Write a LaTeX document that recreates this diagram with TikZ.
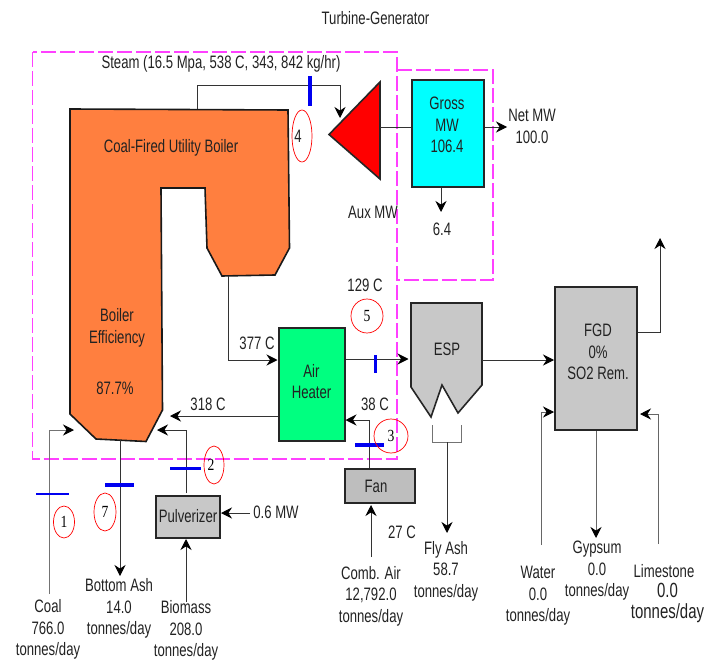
\documentclass[tikz,border=0pt]{standalone}
\usepackage{fontspec}
\setmainfont{Liberation Sans}
\newfontfamily\nf[FakeStretch=0.73]{Liberation Sans}
\newfontfamily\nr[FakeStretch=0.8]{Liberation Serif}
\usetikzlibrary{arrows.meta,shapes.geometric}
\definecolor{boilerc}{HTML}{FF7F3F}
\definecolor{magc}{HTML}{FF40FF}
\definecolor{greenc}{HTML}{00FF80}
\definecolor{cyanc}{HTML}{00FFFF}
\definecolor{redc}{HTML}{FF0000}
\definecolor{grayc}{HTML}{C8C8C8}
\definecolor{bluec}{HTML}{0000F0}
\definecolor{txt}{HTML}{222222}
\tikzset{
  lab/.style={font=\nf\fontsize{18}{21.5}\selectfont, align=center, text=txt, inner sep=0pt},
  biglab/.style={font=\nf\fontsize{20.5}{21}\selectfont, align=center, text=txt, inner sep=0pt},
  numc/.style={draw=redc, line width=.7pt, ellipse, inner sep=0pt, text=black, font=\nr\fontsize{17}{17}\selectfont},
  unitbox/.style={draw=black!85, line width=2pt, minimum width=#1, inner sep=0pt, align=center},
  flow/.style={draw=black!80, line width=.9pt, -{Stealth[length=11pt,width=11pt,fill=black,color=black]}},
  plain/.style={draw=black!80, line width=.9pt},
  tick/.style={draw=bluec, line width=3.2pt},
  zone/.style={draw=magc, line width=1.1pt, dash pattern=on 15pt off 4pt},
}
\begin{document}
\begin{tikzpicture}[x=1pt,y=-1pt]
\useasboundingbox (0,0) rectangle (721,661);
% zones
\draw[zone] (32.5,52) rectangle (397,459);
\draw[zone] (397,70) -- (493,70) -- (493,280) -- (397,280);
% boiler
\draw[fill=boilerc, draw=black!90, line width=1.6pt, line join=miter]
  (70,109) -- (288,110) -- (289.5,248) -- (275,275) -- (222,276) -- (207,248) -- (205,188) -- (161,188)
  -- (162.5,410) -- (146,441.5) -- (96,439) -- (70,414) -- cycle;
\coordinate (boilerTop) at (197,109);
\coordinate (boilerOut) at (228,276);
\coordinate (boilerBot) at (120,440);
\node[lab] (boilname) at (171,148) {Coal-Fired Utility Boiler};
\node[lab] (boileff) at (117,328) {Boiler\\Efficiency};
\node[lab] (boilpct) at (115,388) {87.7\%};
% turbine
\draw[fill=redc, draw=black!85, line width=1.6pt] (329,134.5) -- (380,82) -- (380,179) -- cycle;
\coordinate (turbIn) at (340,118);
\coordinate (turbOut) at (380,127);
% generator
\node[unitbox=72pt, fill=cyanc, minimum height=107pt, anchor=north west] (gross) at (411,79) {};
\node[lab] (grosslab) at (447,125) {Gross\\MW\\106.4};
\coordinate (netEnd) at (507,127);
\coordinate (auxEnd) at (441,212);
\draw[plain] (turbOut) -- (gross.west |- turbOut);
\draw[flow] (gross.east |- turbOut) -- (netEnd);
\draw[flow] (gross.south -| auxEnd) -- (auxEnd);
\node[lab] (net) at (532,126.5) {Net MW\\100.0};
\node[lab] (aux) at (442,229) {6.4};
\node[lab] (auxmw) at (373,212) {Aux MW};
\node[lab] (tg) at (375.5,18) {Turbine-Generator};
\node[lab] (steam) at (221,64) {Steam (16.5 Mpa, 538 C, 343, 842 kg/hr)};
\draw[flow] (boilerTop) -- (197,85) -| (turbIn);
\draw[tick] (310,76) -- (310,106);
\node[numc, minimum width=20pt, minimum height=52pt] (c4) at (302,136) {};
\node[lab] (n4) at (298,136) {4};
% air heater
\node[unitbox=66pt, fill=greenc, minimum height=113pt, anchor=north west] (ah) at (277.5,327) {};
\node[lab] (ahl) at (311.5,381.5) {Air\\Heater};
\draw[flow] (boilerOut) -- (228,360) -- (ah.west |- 0,360);
\node[lab] (t377) at (257,343) {377 C};
\coordinate (b318) at (170,416);
\draw[flow] (ah.west |- b318) -- (b318);
\node[lab] (t318) at (208,404) {318 C};
% ESP
\draw[fill=grayc, draw=black!85, line width=1.6pt]
  (411,303) -- (482,303) -- (482,385) -- (458,413) -- (442,385) -- (431,417) -- (411,387) -- cycle;
\coordinate (espIn) at (408.5,359);
\coordinate (espOut) at (482,360);
\node[lab] (esp) at (447,349) {ESP};
\draw[flow] (ah.east |- espIn) -- (espIn);
\draw[tick, line width=2.6pt] (375.5,355) -- (375.5,373);
\node[lab] (t129) at (365,285) {129 C};
\node[numc, minimum width=32pt, minimum height=34pt] (c5) at (367,316) {5};
% FGD
\node[unitbox=82pt, fill=grayc, minimum height=143pt, anchor=north west] (fgd) at (554,286) {};
\node[lab] (fgdl) at (598,352) {FGD\\0\%\\SO2 Rem.};
\draw[flow] (espOut) -- (fgd.west |- espOut);
\coordinate (stackEnd) at (660,238);
\draw[flow] (fgd.east |- 0,332) -| (stackEnd);
% fan
\node[unitbox=70pt, fill=grayc!95!black, minimum height=34pt, anchor=north west] (fan) at (344,468) {};
\node[lab] (fanl) at (376,486) {Fan};
\coordinate (fanOut) at (369,468);
\draw[flow] (fanOut) -- (369,420) -- (ah.east |- 0,420);
\draw[tick] (355,445) -- (384,445);
\node[numc, minimum width=34pt, minimum height=34pt] (c3) at (391,436) {3};
\node[lab] (t38) at (375,404) {38 C};
\coordinate (airStart) at (371,557);
\draw[flow] (airStart) -- (371,505);
\node[lab] (t27) at (402,532) {27 C};
\node[lab] (air) at (371,596) {Comb. Air\\12,792.0\\tonnes/day};
% fly ash
\coordinate (hopL) at (432,425);
\coordinate (hopR) at (461,425);
\coordinate (hopM) at (447,442);
\coordinate (flyEnd) at (447,533);
\draw[plain, draw=black!55] (hopL) -- (432,442) -- (461,442) -- (hopR);
\draw[flow] (hopM) -- (flyEnd);
\node[lab] (fly) at (446,571) {Fly Ash\\58.7\\tonnes/day};
% water
\coordinate (waterStart) at (541,545);
\draw[flow, draw=black!60] (waterStart) -- (541,412) -- (fgd.west |- 0,412);
\node[lab] (water) at (538,596) {Water\\0.0\\tonnes/day};
% gypsum
\coordinate (gypEnd) at (596,538);
\draw[flow, draw=black!60] (gypEnd |- fgd.south) -- (gypEnd);
\node[lab] (gyp) at (597,571) {Gypsum\\0.0\\tonnes/day};
% limestone
\coordinate (limeStart) at (658,544);
\draw[flow, draw=black!60] (limeStart) -- (658,414) -- (640,414);
\node[lab] (lime) at (664,571.5) {Limestone};
\node[biglab] (limeval) at (667.5,603) {0.0\\tonnes/day};
% coal
\coordinate (coalStart) at (49,594);
\coordinate (coalEnd) at (74,430);
\draw[flow, draw=black!55] (coalStart) |- (coalEnd);
\draw[tick, line width=2.6pt] (36,494) -- (69,494);
\node[numc, minimum width=21pt, minimum height=32pt] (c1) at (64,522) {1};
\node[lab] (coal) at (48,629.5) {Coal\\766.0\\tonnes/day};
% bottom ash
\coordinate (ashEnd) at (120,576);
\draw[flow] (boilerBot) -- (ashEnd);
\draw[tick, line width=3.6pt] (105,485) -- (134,485);
\node[numc, minimum width=22pt, minimum height=38pt] (c7) at (105,512) {7};
\node[lab] (ash) at (119,608.5) {Bottom Ash\\14.0\\tonnes/day};
% pulverizer
\node[unitbox=64pt, fill=grayc, minimum height=42pt, anchor=north west] (pulv) at (155,495) {};
\node[lab] (pulvl) at (188,516) {Pulverizer};
\coordinate (pulvEnd) at (157,430);
\draw[flow] (186,493) |- (pulvEnd);
\draw[tick] (170,468.5) -- (201,468.5);
\node[numc, minimum width=20pt, minimum height=38pt] (c2) at (214,465) {};
\node[lab, font=\nr\fontsize{17}{17}\selectfont, text=black] (n2) at (211,465) {2};
\coordinate (bioStart) at (186,602);
\draw[flow] (bioStart) -- (bioStart |- pulv.south);
\node[lab] (bio) at (186,630.5) {Biomass\\208.0\\tonnes/day};
\coordinate (mwStart) at (250,513);
\draw[flow] (mwStart) -- (pulv.east |- mwStart);
\node[lab] (mw) at (276,512) {0.6 MW};
\end{tikzpicture}
\end{document}
